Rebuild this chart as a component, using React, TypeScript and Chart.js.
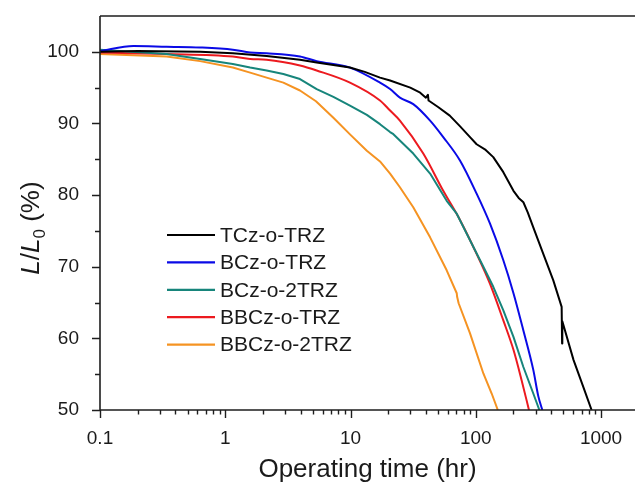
import React, { useEffect, useRef } from "react";
import { Chart, registerables } from "chart.js";

Chart.register(...registerables);

const FONT = "'Liberation Sans', Arial, sans-serif";

// Series: operating time (hr) and relative luminance L/L0 (%)
const tczTime = [0.1, 0.2, 0.63, 1.15, 2.14, 3.95, 5.37, 9.9, 13, 17.2, 20.7, 30, 36, 40, 41.5, 42, 50, 62, 75, 90, 101.6, 120, 138, 166, 200, 220, 240, 260, 288, 346, 416, 485, 489, 491, 603, 723, 841];
const tczLum = [100, 100.1, 100.0, 99.8, 99.4, 98.9, 98.5, 97.8, 97.2, 96.4, 96.0, 95.0, 94.3, 93.6, 94.0, 93.2, 92.3, 91.1, 89.6, 88.1, 87.1, 86.3, 85.3, 83.2, 80.6, 79.6, 79.0, 77.6, 75.5, 71.8, 68.1, 64.4, 59.3, 62.4, 57.0, 53.2, 50];

const bczTime = [0.1, 0.185, 0.34, 0.63, 1.15, 1.58, 2.14, 3.95, 5.37, 9.9, 17.2, 20.7, 24.8, 31.7, 43.2, 55, 75, 101.6, 130, 166, 200, 240, 288, 316, 340];
const bczLum = [100.1, 100.8, 100.7, 100.6, 100.3, 99.9, 99.8, 99.35, 98.7, 97.8, 95.7, 94.8, 93.6, 92.7, 90.4, 88.1, 84.8, 80.2, 76.0, 70.9, 66.3, 61.1, 55.6, 51.9, 50];

const bcz2Time = [0.1, 0.34, 0.63, 1.15, 1.58, 2.14, 2.91, 3.95, 5.37, 7.3, 9.9, 13.5, 17.2, 20.7, 22, 31.7, 43.2, 58.6, 70.5, 90, 115, 138, 166, 200, 240, 288, 322];
const bcz2Lum = [100.3, 99.7, 99.0, 98.3, 97.8, 97.4, 96.9, 96.2, 94.8, 93.7, 92.5, 91.2, 89.9, 88.8, 88.5, 85.8, 83.0, 79.2, 77.4, 73.7, 70.0, 67.2, 63.9, 60.2, 56.0, 52.3, 50];

const bbczTime = [0.1, 0.34, 1.15, 1.58, 2.14, 3.95, 5.37, 9.9, 17.2, 20.7, 24.8, 38.1, 55, 75, 101.6, 130, 166, 200, 232, 266];
const bbczLum = [99.9, 99.7, 99.35, 99.0, 98.9, 98.1, 97.4, 95.7, 93.2, 91.8, 90.4, 85.8, 80.6, 76.5, 71.8, 67.6, 62.5, 58.4, 54.2, 50];

const bbcz2Time = [0.1, 0.34, 0.63, 1.15, 1.58, 2.14, 2.91, 3.95, 5.3, 7.3, 10, 13.5, 17.2, 20.7, 24.8, 31.7, 43.2, 58.6, 70.5, 71, 73, 90, 115, 134, 150];
const bbcz2Lum = [99.7, 99.35, 98.7, 97.8, 97.1, 96.4, 95.7, 94.6, 93.1, 90.8, 88.4, 86.2, 84.7, 83.0, 81.1, 78.3, 74.1, 69.5, 66.3, 65.8, 64.9, 60.7, 55.1, 52.3, 50];

const seriesNames = ["TCz-o-TRZ", "BCz-o-TRZ", "BCz-o-2TRZ", "BBCz-o-TRZ", "BBCz-o-2TRZ"];
const seriesColors = ["#000000", "#0a0ae6", "#17857b", "#ec1a1f", "#f59322"];
const seriesSmooth = [false, true, false, true, false];
const seriesTimes = [tczTime, bczTime, bcz2Time, bbczTime, bbcz2Time];
const seriesLums = [tczLum, bczLum, bcz2Lum, bbczLum, bbcz2Lum];

const xMajorTicks = [0.1, 1, 10, 100, 1000];
const xMin = 0.1;
const xMax = 1868;
const yMin = 50;
const yMax = 105;

const decorPlugin = {
  id: "decor",
  afterDraw(chart: any) {
    const { ctx, chartArea: a, scales } = chart;
    const x = scales.x;
    const y = scales.y;
    ctx.save();
    ctx.strokeStyle = "#1e1e1e";
    ctx.lineWidth = 1.6;
    ctx.beginPath();
    ctx.moveTo(a.left, a.top);
    ctx.lineTo(a.left, a.bottom);
    ctx.lineTo(a.right, a.bottom);
    ctx.moveTo(a.left, a.top);
    ctx.lineTo(a.right, a.top);
    ctx.stroke();

    ctx.lineWidth = 1.4;
    ctx.beginPath();
    for (const d of xMajorTicks) {
      for (let m = 1; m <= 9; m++) {
        const v = d * m;
        if (v > xMax) break;
        const px = Math.round(x.getPixelForValue(v)) + 0.5;
        const len = m === 1 ? 8 : 4.5;
        ctx.moveTo(px, a.bottom);
        ctx.lineTo(px, a.bottom + len);
      }
    }
    for (let v = yMin; v < yMax; v += 5) {
      const py = Math.round(y.getPixelForValue(v)) + 0.5;
      const len = v % 10 === 0 ? 8 : 5;
      ctx.moveTo(a.left - len, py);
      ctx.lineTo(a.left, py);
    }
    ctx.stroke();

    // x-axis title
    ctx.fillStyle = "#1a1a1a";
    ctx.font = `26px ${FONT}`;
    ctx.textAlign = "center";
    ctx.textBaseline = "alphabetic";
    ctx.fillText("Operating time (hr)", (a.left + a.right) / 2, 477);

    // y-axis title: L/L0 (%)
    const parts = [
      { t: "L", f: `italic 26px ${FONT}`, dy: 0 },
      { t: "/", f: `26px ${FONT}`, dy: 0 },
      { t: "L", f: `italic 26px ${FONT}`, dy: 0 },
      { t: "0", f: `17px ${FONT}`, dy: 6 },
      { t: " (%)", f: `26px ${FONT}`, dy: 0 },
    ];
    let total = 0;
    for (const p of parts) {
      ctx.font = p.f;
      total += ctx.measureText(p.t).width;
    }
    ctx.save();
    ctx.translate(39, 228);
    ctx.rotate(-Math.PI / 2);
    ctx.textAlign = "left";
    let cx = -total / 2;
    for (const p of parts) {
      ctx.font = p.f;
      ctx.fillText(p.t, cx, p.dy);
      cx += ctx.measureText(p.t).width;
    }
    ctx.restore();

    // legend
    ctx.font = `21px ${FONT}`;
    ctx.textAlign = "left";
    ctx.textBaseline = "middle";
    seriesNames.forEach((name, i) => {
      const ly = 235 + i * 27.4;
      ctx.strokeStyle = seriesColors[i];
      ctx.lineWidth = 2.2;
      ctx.beginPath();
      ctx.moveTo(167, ly);
      ctx.lineTo(215, ly);
      ctx.stroke();
      ctx.fillStyle = "#1a1a1a";
      ctx.fillText(name, 220, ly + 1);
    });
    ctx.restore();
  },
};

export default function App() {
  const ref = useRef<HTMLCanvasElement | null>(null);
  useEffect(() => {
    if (!ref.current) return;
    const datasets = seriesNames.map((name, i) => ({
      label: name,
      data: seriesTimes[i].map((t, j) => ({ x: t, y: seriesLums[i][j] })),
      borderColor: seriesColors[i],
      backgroundColor: seriesColors[i],
      borderWidth: 2,
      pointRadius: 0,
      tension: 0,
      cubicInterpolationMode: (seriesSmooth[i] ? "monotone" : "default") as any,
      borderJoinStyle: "round" as const,
      fill: false,
    }));
    const chart = new Chart(ref.current, {
      type: "line",
      data: { datasets },
      plugins: [decorPlugin],
      options: {
        responsive: false,
        maintainAspectRatio: false,
        animation: false,
        devicePixelRatio: 1,
        layout: { padding: { left: 0, right: 0, top: 16, bottom: 0 } },
        plugins: { legend: { display: false }, tooltip: { enabled: false } },
        scales: {
          x: {
            type: "logarithmic",
            min: xMin,
            max: xMax,
            afterBuildTicks: (s: any) => {
              s.ticks = xMajorTicks.map((v) => ({ value: v }));
            },
            afterFit: (s: any) => {
              s.height = 76;
              s.paddingLeft = 0;
              s.paddingRight = 0;
            },
            grid: { display: false },
            border: { display: false },
            ticks: {
              autoSkip: false,
              maxRotation: 0,
              padding: 9,
              color: "#1a1a1a",
              font: { family: FONT, size: 19 },
              callback: (v: any) => String(v),
            },
          },
          y: {
            type: "linear",
            min: yMin,
            max: yMax,
            afterFit: (s: any) => {
              s.width = 100;
              s.paddingTop = 0;
              s.paddingBottom = 0;
            },
            grid: { display: false },
            border: { display: false },
            ticks: {
              stepSize: 5,
              padding: 13,
              color: "#1a1a1a",
              font: { family: FONT, size: 19 },
              callback: (v: any) => (Number(v) % 10 === 0 ? String(v) : ""),
            },
          },
        },
      },
    });
    return () => chart.destroy();
  }, []);
  return (
    <div style={{ position: "absolute", left: 0, top: 0, width: 635, height: 486, background: "#fff" }}>
      <canvas ref={ref} width={635} height={486} style={{ display: "block", width: 635, height: 486 }} />
    </div>
  );
}
